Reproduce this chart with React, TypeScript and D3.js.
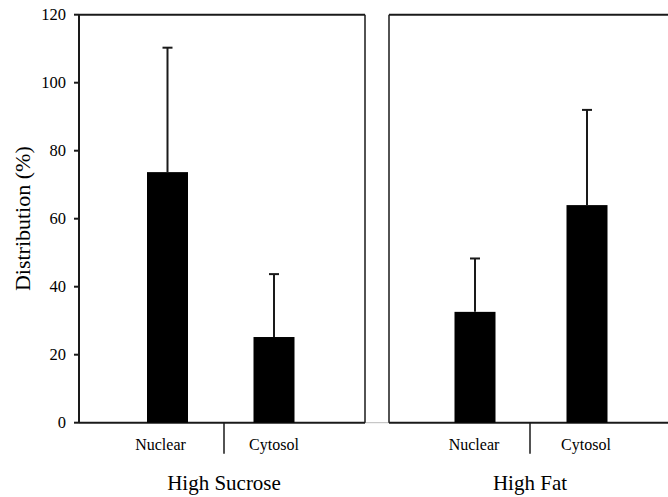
import React from "react";
import * as d3 from "d3";

// data
const categories = ["Nuclear", "Cytosol"];
const groups = ["High Sucrose", "High Fat"];
const sucroseMean = [73.7, 25.2];
const sucroseErr = [36.6, 18.5];
const fatMean = [32.6, 64.0];
const fatErr = [15.7, 28.0];
const yTicks = [0, 20, 40, 60, 80, 100, 120];

const width = 668,
  height = 497;

const y = d3.scaleLinear().domain([0, 120]).range([422.7, 14.7]);

const panels = [
  {
    name: groups[0],
    means: sucroseMean,
    errs: sucroseErr,
    left: 79,
    right: 365,
    rightEdge: true,
    x: d3.scalePoint().domain(categories).range([167.5, 274]),
    sep: 224,
    labelShift: [-7, 0],
  },
  {
    name: groups[1],
    means: fatMean,
    errs: fatErr,
    left: 389,
    right: 668,
    rightEdge: false,
    x: d3.scalePoint().domain(categories).range([475, 587]),
    sep: 530,
    labelShift: [-1, -1],
  },
];

const barW = 41;
const capW = 10;
const ink = "#1a1a1a";
const serif = "'Liberation Serif', 'Times New Roman', serif";

export default function App() {
  return (
    <svg
      width={width}
      height={height}
      style={{ position: "absolute", left: 0, top: 0, background: "#fff" }}
      fontFamily={serif}
    >
      {/* thin line joining the two panels at the baseline */}
      <line x1={365} x2={389} y1={y(0)} y2={y(0)} stroke="#bbb" strokeWidth={1} />

      {panels.map((p, pi) => (
        <g key={p.name}>
          {/* frame */}
          <line x1={p.left} x2={p.right} y1={y(120)} y2={y(120)} stroke={ink} strokeWidth={2} />
          <line x1={p.left} x2={p.right} y1={y(0)} y2={y(0)} stroke={ink} strokeWidth={2} />
          <line x1={p.left} x2={p.left} y1={y(120)} y2={y(0)} stroke={ink} strokeWidth={pi === 0 ? 2 : 1.5} />
          {p.rightEdge && (
            <line x1={p.right} x2={p.right} y1={y(120)} y2={y(0)} stroke={ink} strokeWidth={1.5} />
          )}

          {/* separator between categories */}
          <line x1={p.sep} x2={p.sep} y1={y(0)} y2={y(0) + 31} stroke={ink} strokeWidth={1.5} />

          {categories.map((c, i) => {
            const cx = p.x(c)!;
            const top = y(p.means[i]);
            const errTop = y(p.means[i] + p.errs[i]);
            return (
              <g key={c}>
                <line x1={cx} x2={cx} y1={top} y2={errTop} stroke={ink} strokeWidth={2} />
                <line x1={cx - capW / 2} x2={cx + capW / 2} y1={errTop} y2={errTop} stroke={ink} strokeWidth={2} />
                <rect x={cx - barW / 2} y={top} width={barW} height={y(0) - top} fill="#000" />
                <text
                  x={cx + p.labelShift[i]}
                  y={450}
                  textAnchor="middle"
                  fontSize={16}
                  fill="#000"
                >
                  {c}
                </text>
              </g>
            );
          })}

          <text x={p.sep} y={490} textAnchor="middle" fontSize={21} fill="#000">
            {p.name}
          </text>
        </g>
      ))}

      {/* y axis ticks */}
      {yTicks.map((t) => (
        <g key={t}>
          <line x1={74} x2={79} y1={y(t)} y2={y(t)} stroke={ink} strokeWidth={2} />
          <text x={66} y={y(t)} dy="0.35em" textAnchor="end" fontSize={16.5} fill="#000">
            {t}
          </text>
        </g>
      ))}

      <text
        transform={`translate(30,${(y(0) + y(120)) / 2}) rotate(-90)`}
        textAnchor="middle"
        fontSize={22}
        fill="#000"
      >
        Distribution (%)
      </text>
    </svg>
  );
}
